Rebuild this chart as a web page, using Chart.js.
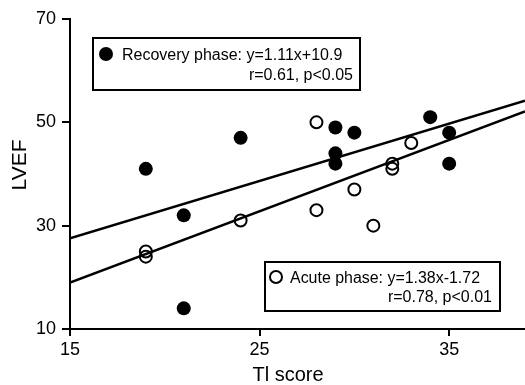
<!DOCTYPE html>
<html>
<head>
<meta charset="utf-8">
<script src="https://cdn.jsdelivr.net/npm/chart.js@4"></script>
<style>
  body { margin: 0; background: #fff; }
  #wrap { width: 525px; height: 385px; position: relative; }
</style>
</head>
<body>
<div id="wrap"><canvas id="tlChart"></canvas></div>
<script>
// data
var tlRecovery = [19, 21, 21, 24, 29, 29, 29, 30, 34, 35, 35];
var lvefRecovery = [41, 32, 14, 47, 49, 44, 42, 48, 51, 48, 42];
var tlAcute = [19, 19, 24, 28, 28, 30, 31, 32, 32, 33];
var lvefAcute = [25, 24, 31, 50, 33, 37, 30, 42, 41, 46];

// regression lines as printed in the legend boxes
var fitSlopes = [1.11, 1.38];      // recovery, acute
var fitIntercepts = [10.9, -1.72];
var fitRange = [15, 39];

var xTicks = [15, 25, 35];
var yTicks = [10, 30, 50, 70];

var legendLines = [
    ['Recovery phase: y=1.11x+10.9', 'r=0.61, p<0.05'],
    ['Acute phase: y=1.38x-1.72', 'r=0.78, p<0.01']
];
var xTitle = 'Tl score';
var yTitle = 'LVEF';

function toPoints(xs, ys) {
    return xs.map(function (x, i) { return {x: x, y: ys[i]}; });
}
function fitLine(k) {
    return fitRange.map(function (x) { return {x: x, y: fitSlopes[k] * x + fitIntercepts[k]}; });
}

var font = 'Liberation Sans, Arial, Helvetica, sans-serif';

// legend boxes and axis titles
var boxPlugin = {
    id: 'boxes',
    afterDraw: function (chart) {
        var c = chart.ctx;
        var a = chart.chartArea;
        c.save();
        c.strokeStyle = '#000';
        c.fillStyle = '#000';
        c.lineWidth = 2;

        // recovery box
        var bx = a.left + 23, by = a.top + 19, bw = 267, bh = 52;
        c.fillStyle = '#fff';
        c.fillRect(bx, by, bw, bh);
        c.strokeRect(bx, by, bw, bh);
        c.fillStyle = '#000';
        c.beginPath();
        c.arc(bx + 13, by + 16, 7, 0, Math.PI * 2);
        c.fill();
        c.font = '16px ' + font;
        c.textBaseline = 'alphabetic';
        c.textAlign = 'left';
        c.fillText(legendLines[0][0], bx + 29, by + 22, 221);
        c.textAlign = 'right';
        c.fillText(legendLines[0][1], bx + bw - 7, by + 42, 130);

        // acute box
        var ax = 265, ay = 262, aw = 235, ah = 49;
        c.fillStyle = '#fff';
        c.fillRect(ax, ay, aw, ah);
        c.strokeRect(ax, ay, aw, ah);
        c.fillStyle = '#000';
        c.beginPath();
        c.arc(ax + 11, ay + 15, 6, 0, Math.PI * 2);
        c.stroke();
        c.textAlign = 'left';
        c.fillText(legendLines[1][0], ax + 25, ay + 21, 190);
        c.textAlign = 'right';
        c.fillText(legendLines[1][1], ax + aw - 8, ay + 40, 130);

        // axis titles
        c.font = '20px ' + font;
        c.textAlign = 'center';
        c.fillText(xTitle, 288, 381);
        c.translate(26, 165);
        c.rotate(-Math.PI / 2);
        c.font = '21px ' + font;
        c.fillText(yTitle, 0, 0);
        c.restore();
    }
};

var ctx = document.getElementById('tlChart').getContext('2d');
var tlChart = new Chart(ctx, {
    type: 'scatter',
    data: {
        datasets: [{
            label: 'Recovery phase',
            data: toPoints(tlRecovery, lvefRecovery),
            pointRadius: 7,
            pointBackgroundColor: '#000',
            pointBorderWidth: 0,
            order: 1
        }, {
            label: 'Acute phase',
            data: toPoints(tlAcute, lvefAcute),
            pointRadius: 6,
            pointBackgroundColor: 'rgba(0,0,0,0)',
            pointBorderColor: '#000',
            pointBorderWidth: 2,
            order: 1
        }, {
            type: 'line',
            label: 'Recovery fit',
            data: fitLine(0),
            borderColor: '#000',
            borderWidth: 2.5,
            pointRadius: 0,
            order: 2
        }, {
            type: 'line',
            label: 'Acute fit',
            data: fitLine(1),
            borderColor: '#000',
            borderWidth: 2.5,
            pointRadius: 0,
            order: 2
        }]
    },
    options: {
        responsive: true,
        maintainAspectRatio: false,
        animation: false,
        layout: { autoPadding: false, padding: { top: 19, right: 0, left: 0, bottom: 0 } },
        plugins: {
            legend: { display: false },
            tooltip: { enabled: false }
        },
        scales: {
            x: {
                type: 'linear',
                min: 15,
                max: 39,
                afterBuildTicks: function (axis) {
                    axis.ticks = xTicks.map(function (v) { return {value: v}; });
                },
                afterFit: function (axis) { axis.height = 56; },
                border: { display: true, color: '#000', width: 2 },
                grid: { display: true, drawOnChartArea: false, drawTicks: true, tickLength: 7, color: '#000', lineWidth: 2 },
                ticks: { color: '#000', font: { family: font, size: 18 }, padding: 3 }
            },
            y: {
                type: 'linear',
                min: 10,
                max: 70,
                afterBuildTicks: function (axis) {
                    axis.ticks = yTicks.map(function (v) { return {value: v}; });
                },
                afterFit: function (axis) { axis.width = 70; },
                border: { display: true, color: '#000', width: 2 },
                grid: { display: true, drawOnChartArea: false, drawTicks: true, tickLength: 8, color: '#000', lineWidth: 2 },
                ticks: { color: '#000', font: { family: font, size: 18 }, padding: 6 }
            }
        }
    },
    plugins: [boxPlugin]
});
</script>
</body>
</html>
